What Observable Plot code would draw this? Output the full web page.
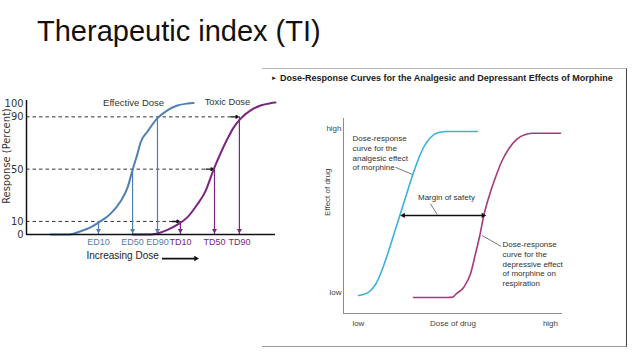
<!DOCTYPE html>
<html><head><meta charset="utf-8">
<script src="https://cdn.jsdelivr.net/npm/d3@7"></script>
<script src="https://cdn.jsdelivr.net/npm/@observablehq/plot@0.6"></script>
<style>
html,body{margin:0;padding:0;background:#fff;}
#page{position:relative;width:638px;height:359px;overflow:hidden;font-family:"Liberation Sans",Arial,sans-serif;background:#fff;}
#title{position:absolute;left:37px;top:17px;font-size:29px;line-height:29px;color:#111;white-space:nowrap;}
#frame{position:absolute;left:262px;top:68px;width:364px;height:277px;border-top:1px solid #b8b8b8;border-right:1px solid #444;border-bottom:1px solid #9a9a9a;}
#rtitle{position:absolute;left:271px;top:74px;font-size:9px;line-height:9px;font-weight:bold;color:#1a1a1a;white-space:nowrap;}
#rtitle span{font-size:6px;margin-right:3px;vertical-align:1px;}
#left{position:absolute;left:0;top:90px;}
#right{position:absolute;left:300px;top:100px;}
</style></head>
<body>
<div id="page">
  <div id="title">Therapeutic index (TI)</div>
  <div id="frame"></div>
  <div id="rtitle"><span>&#9658;</span>Dose-Response Curves for the Analgesic and Depressant Effects of Morphine</div>
  <div id="left"></div>
  <div id="right"></div>
</div>
<script>
// ---------- Left chart: quantal dose-response (dose 0..100 arbitrary units, response %) ----------
const effDose = [9.6, 16.9, 21.7, 25.7, 29.7, 33.7, 37.8, 40.6, 42.6, 44.6, 45.8, 48.6, 52.6, 56.6, 60.6, 64.7, 67.1];
const effResp = [0, 0, 2.5, 5.5, 10, 15.8, 25.5, 36, 49.5, 62, 70.4, 78.8, 89, 95, 98.7, 100.2, 100.6];
const toxDose = [42.6, 49.8, 52.6, 56.6, 60.6, 64.7, 68.7, 71.9, 75.1, 77.9, 80.7, 83.1, 86.0, 90.0, 94.0, 98.0, 100];
const toxResp = [0, 0, 0.8, 3.5, 7.5, 13.3, 23.3, 33.2, 49.5, 62, 73.2, 81.6, 88.7, 95, 98.7, 100.5, 101];
const levels = [10, 50, 90];
const edNames = ["ED10", "ED50", "ED90"];
const edDoses = [28.9, 42.6, 52.6];
const tdNames = ["TD10", "TD50", "TD90"];
const tdDoses = [61.8, 75.5, 85.5];
const respTicks = [0, 10, 50, 90, 100];
const leftNotes = [
  {text: "Effective Dose", dose: 43, resp: 101, size: 9.5},
  {text: "Toxic Dose", dose: 80.7, resp: 101, size: 9.3}
];

// ---------- Right chart: graded dose-response for morphine (dose 0..100, effect 0..100) ----------
const analgesicDose = [6.85, 9.13, 11.87, 14.61, 17.35, 20.09, 22.83, 25.57, 28.31, 31.05, 33.79, 36.53, 39.73, 43.38, 47.49, 61.19];
const analgesicEff  = [9.23, 9.74, 11.28, 14.87, 21.54, 30.26, 40.0, 49.74, 59.49, 69.23, 77.95, 85.13, 90.26, 92.82, 93.33, 93.33];
const depressDose = [31.96, 47.49, 50.05, 51.14, 54.93, 58.0, 60.27, 62.24, 64.06, 66.35, 69.41, 72.47, 75.48, 79.32, 83.11, 86.89, 99.09];
const depressEff  = [8.21, 8.21, 8.46, 9.74, 13.49, 20.36, 30.62, 40.0, 50.26, 59.64, 69.9, 78.46, 84.46, 89.59, 91.79, 92.46, 92.46];
const effectTicks = [{v: 10.8, label: "low"}, {v: 94.9, label: "high"}];
const doseTicks = [{v: 6.8, label: "low"}, {v: 94.5, label: "high"}];
const safety = {from: 27.3, to: 63.8, eff: 50.26};
const leaders = [
  {x1: 23.7, y1: 75.0, x2: 31.4, y2: 71.3},
  {x1: 39.7, y1: 56.3, x2: 42.8, y2: 50.8},
  {x1: 63.3, y1: 40.0, x2: 72.0, y2: 34.4}
];
const blockNotes = [
  {text: "Dose-response\ncurve for the\nanalgesic effect\nof morphine", dose: 4.1, eff: 91.8},
  {text: "Dose-response\ncurve for the\ndepressive effect\nof morphine on\nrespiration", dose: 72.6, eff: 37.4}
];
const safetyNote = [{text: "Margin of safety", dose: 47, eff: 59.5}];

// ---------- build ----------
const blue = "#5080b2", purple = "#7c2580", ink = "#2b2b2b";
const font = "'Liberation Sans', Arial, sans-serif";
const narrow = "'Liberation Sans Narrow', 'DejaVu Sans Condensed', 'Liberation Sans', sans-serif";
const effRows = effDose.map((d, i) => ({dose: d, resp: effResp[i]}));
const toxRows = toxDose.map((d, i) => ({dose: d, resp: toxResp[i]}));
const edRows = edNames.map((name, i) => ({name, dose: edDoses[i], level: levels[i]}));
const tdRows = tdNames.map((name, i) => ({name, dose: tdDoses[i], level: levels[i]}));
const incArrow = [{from: 54.6, to: 68.0, resp: -18.4}];

const left = Plot.plot({
  width: 290, height: 180,
  marginLeft: 26, marginRight: 15, marginTop: 10, marginBottom: 36,
  style: {fontFamily: font, fontSize: "10px", background: "transparent", color: ink},
  x: {domain: [0, 100], axis: null},
  y: {domain: [0, 100], range: [144, 13.3], axis: null},
  marks: [
    Plot.ruleY(levels, {y: d => d, x1: 0, x2: (d, i) => tdDoses[i] - 3.3, stroke: "#333", strokeWidth: 1, strokeDasharray: "3.5,3"}),
    Plot.arrow(levels, {x1: (d, i) => tdDoses[i] - 3.4, x2: (d, i) => tdDoses[i] - 0.5, y1: d => d, y2: d => d, stroke: "#111", strokeWidth: 1.4, headLength: 4}),
    Plot.ruleX(edRows, {x: "dose", y1: 0, y2: "level", stroke: blue, strokeWidth: 1.2}),
    Plot.ruleX(tdRows, {x: "dose", y1: 0, y2: "level", stroke: purple, strokeWidth: 1.2}),
    Plot.dot(edRows, {x: "dose", y: 0, dy: -4, symbol: "triangle2", r: 2.4, rotate: 180, fill: blue}),
    Plot.dot(tdRows, {x: "dose", y: 0, dy: -4, symbol: "triangle2", r: 2.4, rotate: 180, fill: purple}),
    Plot.line(effRows, {x: "dose", y: "resp", curve: "monotone-x", stroke: blue, strokeWidth: 2}),
    Plot.line(toxRows, {x: "dose", y: "resp", curve: "monotone-x", stroke: purple, strokeWidth: 2}),
    Plot.ruleX([0], {stroke: "#111", strokeWidth: 1.5}),
    Plot.ruleY([0], {stroke: "#111", strokeWidth: 1.5}),
    Plot.text(respTicks, {y: d => d, text: d => String(d), frameAnchor: "left", textAnchor: "end", dx: -3, fontSize: 11, fontFamily: narrow, fill: "#333"}),
    Plot.text(["Response (Percent)"], {y: 60, text: d => d, frameAnchor: "left", textAnchor: "middle", rotate: -90, dx: -20.5, fontSize: 11, fontFamily: narrow, fill: "#333"}),
    Plot.text(edRows, {x: "dose", text: "name", frameAnchor: "bottom", dy: 10, fontSize: 9, fill: blue}),
    Plot.text(tdRows, {x: "dose", text: "name", frameAnchor: "bottom", dy: 10, fontSize: 9, fill: purple}),
    Plot.text(leftNotes, {x: "dose", y: "resp", text: "text", fontSize: d => d.size, fill: "#333"}),
    Plot.text(["Increasing Dose"], {x: 38.6, text: d => d, frameAnchor: "bottom", dy: 24, fontSize: 10, fill: "#222"}),
    Plot.ruleY(incArrow, {y: "resp", x1: "from", x2: "to", stroke: "#111", strokeWidth: 1.8}),
    Plot.dot(incArrow, {x: "to", y: "resp", symbol: "triangle2", r: 2.6, rotate: 90, fill: "#111"})
  ]
});
document.getElementById("left").appendChild(left);

const anaRows = analgesicDose.map((d, i) => ({dose: d, eff: analgesicEff[i]}));
const depRows = depressDose.map((d, i) => ({dose: d, eff: depressEff[i]}));
const heads = [{x: safety.from, rot: -90}, {x: safety.to, rot: 90}];

const right = Plot.plot({
  width: 320, height: 240,
  marginLeft: 43, marginRight: 58, marginTop: 18, marginBottom: 27,
  style: {fontFamily: font, fontSize: "8px", background: "transparent", color: "#333"},
  x: {domain: [0, 100], axis: null},
  y: {domain: [0, 100], axis: null},
  marks: [
    Plot.ruleX([0], {stroke: "#8c8c8c", strokeWidth: 1}),
    Plot.ruleY([0], {stroke: "#8c8c8c", strokeWidth: 1}),
    Plot.line(anaRows, {x: "dose", y: "eff", curve: "monotone-x", stroke: "#3bb3d8", strokeWidth: 1.6}),
    Plot.line(depRows, {x: "dose", y: "eff", curve: "monotone-x", stroke: "#a63a7c", strokeWidth: 1.6}),
    Plot.ruleY([safety], {y: "eff", x1: "from", x2: "to", stroke: "#111", strokeWidth: 1.5}),
    Plot.dot(heads, {x: "x", y: safety.eff, symbol: "triangle2", r: 2.5, rotate: "rot", fill: "#111"}),
    Plot.link(leaders, {x1: "x1", y1: "y1", x2: "x2", y2: "y2", stroke: "#555", strokeWidth: 0.8}),
    Plot.text(blockNotes, {x: "dose", y: "eff", text: "text", textAnchor: "start", lineAnchor: "top", lineHeight: 1.2, fontSize: 8, fill: "#333"}),
    Plot.text(safetyNote, {x: "dose", y: "eff", text: "text", textAnchor: "middle", fontSize: 8, fill: "#333"}),
    Plot.text(effectTicks, {y: "v", text: "label", frameAnchor: "left", textAnchor: "end", dx: -2, fontSize: 8, fill: "#444"}),
    Plot.text(doseTicks, {x: "v", text: "label", frameAnchor: "bottom", dy: 12, fontSize: 8, fill: "#444"}),
    Plot.text(["Dose of drug"], {text: d => d, frameAnchor: "bottom", dy: 12, fontSize: 8, fill: "#444"}),
    Plot.text(["Effect of drug"], {text: d => d, frameAnchor: "left", rotate: -90, dx: -16, fontSize: 8, fill: "#444"})
  ]
});
document.getElementById("right").appendChild(right);
</script>
</body></html>
